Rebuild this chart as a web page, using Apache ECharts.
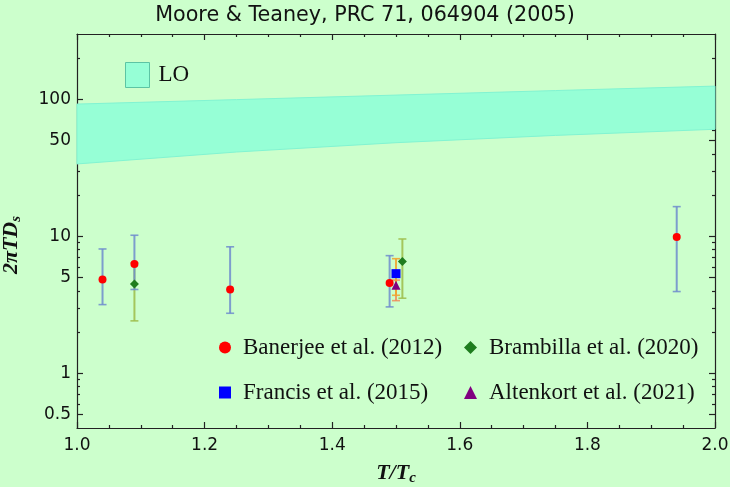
<!DOCTYPE html>
<html><head><meta charset="utf-8">
<script src="https://cdn.jsdelivr.net/npm/echarts@6/dist/echarts.min.js"></script>
<style>html,body{margin:0;padding:0;background:#ccffcc}#c{width:730px;height:487px}</style>
</head><body><div id="c"></div>
<script>
// LO band (Moore & Teaney)
const bandT = [1.0, 1.25, 1.5, 1.75, 2.0];
const bandLow = [33.8, 41.3, 48.3, 54.6, 60.5];
const bandHigh = [92.4, 99.6, 107.5, 116, 125];

// Banerjee et al. (2012)
const banerjeeT = [1.04, 1.09, 1.24, 1.49, 1.94];
const banerjeeVal = [4.84, 6.3, 4.1, 4.58, 9.9];
const banerjeeLo = [3.18, 4.1, 2.75, 3.06, 3.96];
const banerjeeHi = [8.1, 10.2, 8.4, 7.24, 16.5];

// Brambilla et al. (2020)
const brambillaT = [1.09, 1.51];
const brambillaVal = [4.5, 6.55];
const brambillaLo = [2.42, 3.54];
const brambillaHi = [6.4, 9.58];

// Francis et al. (2015)
const francisT = [1.50];
const francisVal = [5.35];
const francisLo = [3.72];
const francisHi = [6.88];

// Altenkort et al. (2021)
const altenkortT = [1.50];
const altenkortVal = [4.4];
const altenkortLo = [3.4];
const altenkortHi = [4.8];

const yLabelValues = [0.5, 1, 5, 10, 50, 100];
const yMinorValues = [0.6, 0.7, 0.8, 0.9, 2, 3, 4, 6, 7, 8, 9, 20, 30, 40, 60, 70, 80, 90, 200];

const axisColor = '#222';
const serif = 'Liberation Serif';
const sans = 'DejaVu Sans';

function errSeries(name, T, lo, hi, color) {
  return {
    type: 'custom', name: name, silent: true, z: 3,
    data: T.map((t, i) => [t, lo[i], hi[i]]),
    encode: {x: 0, y: [1, 2]},
    renderItem: function (p, api) {
      const x = api.value(0);
      const a = api.coord([x, api.value(1)]);
      const b = api.coord([x, api.value(2)]);
      const w = 4;
      return {type: 'group', children: [
        {type: 'line', shape: {x1: a[0], y1: a[1], x2: b[0], y2: b[1]}, style: {stroke: color, lineWidth: 2}},
        {type: 'line', shape: {x1: a[0] - w, y1: a[1], x2: a[0] + w, y2: a[1]}, style: {stroke: color, lineWidth: 1.6}},
        {type: 'line', shape: {x1: b[0] - w, y1: b[1], x2: b[0] + w, y2: b[1]}, style: {stroke: color, lineWidth: 1.6}}
      ]};
    }
  };
}

function yAx(pos, values, len, showLine, showLabel) {
  return {
    type: 'log', logBase: 10, min: 0.4, max: 300, position: pos,
    axisLine: {show: showLine, lineStyle: {color: axisColor, width: 1.2}},
    axisTick: {show: true, inside: true, length: len, customValues: values, lineStyle: {color: axisColor, width: 1.2}},
    axisLabel: showLabel ? {show: true, customValues: values, margin: 6, color: '#111', fontFamily: sans, fontSize: 17,
      formatter: v => String(v)} : {show: false},
    splitLine: {show: false}
  };
}
function xAx(pos, showLabel) {
  return {
    type: 'value', min: 1, max: 2, interval: 0.2, position: pos,
    axisLine: {show: true, onZero: false, lineStyle: {color: axisColor, width: 1.2}},
    axisTick: {show: true, inside: true, length: 6, lineStyle: {color: axisColor, width: 1.2}},
    minorTick: {show: true, splitNumber: 4, length: 3, lineStyle: {color: axisColor, width: 1.2}},
    axisLabel: showLabel ? {show: true, margin: 9, color: '#111', fontFamily: sans, fontSize: 17,
      formatter: v => v.toFixed(1)} : {show: false},
    splitLine: {show: false}, minorSplitLine: {show: false}
  };
}

const nameRich = {
  m: {fontFamily: serif, fontStyle: 'italic', fontWeight: 'bold', fontSize: 22, color: '#111'},
  s: {fontFamily: serif, fontStyle: 'italic', fontWeight: 'bold', fontSize: 15, color: '#111', padding: [10, 0, 0, 0]}
};

const xAxes = [xAx('bottom', true), xAx('top', false)];
xAxes[0].name = '{m|T/T}{s|c}';
xAxes[0].nameLocation = 'middle';
xAxes[0].nameGap = 33;
xAxes[0].nameTextStyle = {rich: nameRich};

const yAxes = [
  yAx('left', yLabelValues, 6, true, true),
  yAx('left', yMinorValues, 3, false, false),
  yAx('right', yLabelValues, 6, true, false),
  yAx('right', yMinorValues, 3, false, false)
];
yAxes[0].name = '{m|2πTD}{s|s}';
yAxes[0].nameLocation = 'middle';
yAxes[0].nameGap = 53;
yAxes[0].nameRotate = 90;
yAxes[0].nameTextStyle = {rich: nameRich, padding: [0, 28, 0, 0]};

function legendAt(name, icon, left, top, w, h, pad) {
  return {
    data: [{name: name, icon: icon}], left: left, top: top, padding: 0,
    itemWidth: w, itemHeight: h, itemGap: 0,
    selectedMode: false,
    textStyle: {fontFamily: serif, fontSize: 23, color: '#111', padding: [0, 0, 0, pad]}
  };
}

const legends = [
  Object.assign(legendAt('LO', 'rect', 125, 62, 24, 25, 4), {
    data: [{name: 'LO', icon: 'rect', itemStyle: {color: '#96ffd6', borderColor: '#5cc4a4', borderWidth: 1}}]
  }),
  legendAt('Banerjee et al. (2012)', 'circle', 219, 336, 12, 12, 7),
  legendAt('Brambilla et al. (2020)', 'diamond', 464, 336, 13, 13, 7),
  legendAt('Francis et al. (2015)', 'rect', 219, 381, 12, 12, 7),
  legendAt('Altenkort et al. (2021)', 'triangle', 464, 381, 13, 13, 7)
];

const option = {
  backgroundColor: '#ccffcc',
  animation: false,
  title: {text: 'Moore & Teaney, PRC 71, 064904 (2005)', left: 'center', top: 5, padding: 0,
    textStyle: {fontFamily: sans, fontSize: 20.7, fontWeight: 'normal', color: '#111'}},
  grid: {left: 77, right: 15, top: 34, bottom: 59, outerBoundsMode: 'none'},
  legend: legends,
  xAxis: xAxes,
  yAxis: yAxes,
  series: [
    {
      type: 'custom', name: 'LO', silent: true, z: 1,
      itemStyle: {color: '#96ffd6'},
      data: [[bandT[0], bandLow[0]]],
      encode: {x: 0, y: 1},
      renderItem: function (p, api) {
        if (p.dataIndex !== 0) return null;
        const pts = [];
        for (let i = 0; i < bandT.length; i++) pts.push(api.coord([bandT[i], bandHigh[i]]));
        for (let i = bandT.length - 1; i >= 0; i--) pts.push(api.coord([bandT[i], bandLow[i]]));
        return {type: 'polygon', shape: {points: pts, smooth: 0}, style: {fill: '#96ffd6', stroke: '#82f4d2', lineWidth: 1}};
      }
    },
    errSeries('err_altenkort', altenkortT, altenkortLo, altenkortHi, 'rgba(240,140,90,0.85)'),
    errSeries('err_brambilla', brambillaT, brambillaLo, brambillaHi, 'rgba(160,192,80,0.9)'),
    errSeries('err_francis', francisT, francisLo, francisHi, 'rgba(240,165,50,0.9)'),
    errSeries('err_banerjee', banerjeeT, banerjeeLo, banerjeeHi, 'rgba(110,140,205,0.85)'),
    {type: 'scatter', name: 'Banerjee et al. (2012)', symbol: 'circle', symbolSize: 8, z: 5,
      itemStyle: {color: '#ff0000', opacity: 1}, data: banerjeeT.map((t, i) => [t, banerjeeVal[i]])},
    {type: 'scatter', name: 'Brambilla et al. (2020)', symbol: 'diamond', symbolSize: 9, z: 5,
      itemStyle: {color: '#1e7d1e', opacity: 1}, data: brambillaT.map((t, i) => [t, brambillaVal[i]])},
    {type: 'scatter', name: 'Francis et al. (2015)', symbol: 'rect', symbolSize: 9, z: 5,
      itemStyle: {color: '#0000ff', opacity: 1}, data: francisT.map((t, i) => [t, francisVal[i]])},
    {type: 'scatter', name: 'Altenkort et al. (2021)', symbol: 'triangle', symbolSize: 9, z: 5,
      itemStyle: {color: '#800080', opacity: 1}, data: altenkortT.map((t, i) => [t, altenkortVal[i]])}
  ]
};
const chart = echarts.init(document.getElementById('c'), null, {renderer: 'canvas'});
chart.setOption(option);
</script>
</body></html>
